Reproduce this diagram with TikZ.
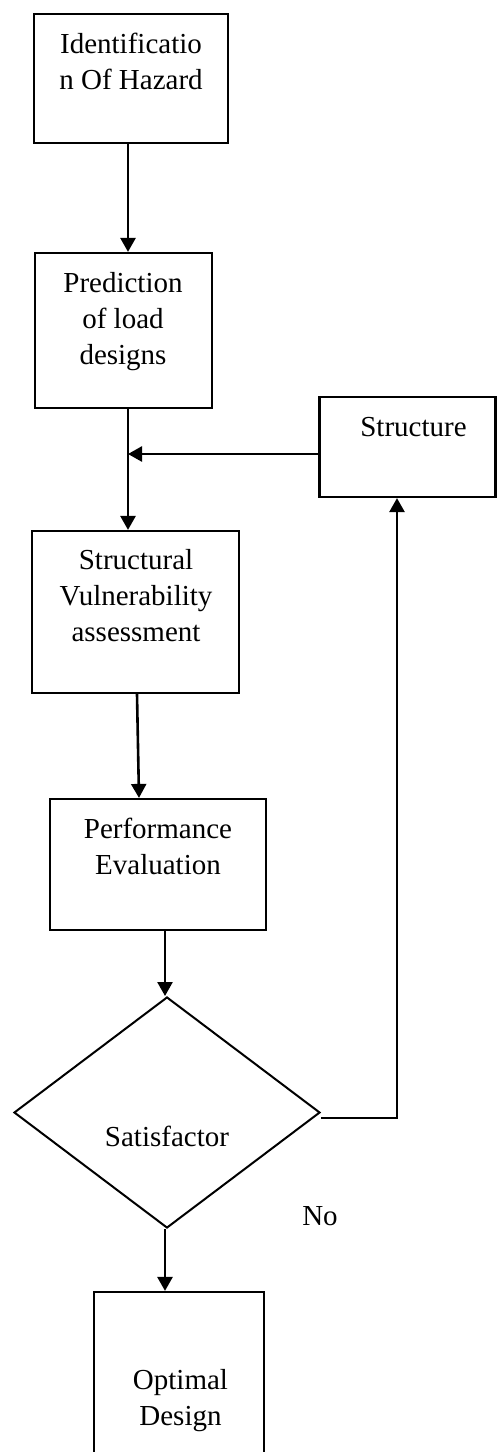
\documentclass[tikz,border=0pt]{standalone}
\usepackage{fontspec}
\setmainfont{Liberation Serif}
\usetikzlibrary{shapes.geometric,arrows.meta}

\begin{document}
\begin{tikzpicture}
					[x=1pt, y=-1pt, >={Triangle[width=15pt,length=14pt]},
					box/.style={draw, rectangle, line width=2.2pt, inner sep=0pt},
					txt/.style={align=center, inner sep=0pt, font=\fontsize{29}{36}\selectfont},
					flow/.style={->, line width=2.6pt}]
					\useasboundingbox (0,0) rectangle (497,1452);
					\clip (0,0) rectangle (497,1452);
					\node[box, minimum width=194pt, minimum height=129pt] (hazard) at (131,78.5) {};
					\node[box, minimum width=177pt, minimum height=155pt] (load) at (123.5,330.5) {};
					\node[box, minimum width=176pt, minimum height=100pt] (struct) at (407.5,447) {};
					\node[box, minimum width=207pt, minimum height=162pt] (vuln) at (135.5,612) {};
					\node[box, minimum width=216pt, minimum height=131pt] (perf) at (158,864.5) {};
					\node[diamond, draw, line width=2pt, inner sep=0pt, minimum width=306pt, minimum height=231pt] (sat) at (167,1112.5) {};
					\node[box, minimum width=170pt, minimum height=190pt] (opt) at (179,1387) {};
					\node[txt] (hazardtxt) at (131,61) {Identificatio\\n Of Hazard};
					\node[txt] (loadtxt) at (123,322) {Prediction\\of load\\designs};
					\node[txt] (structtxt) at (413.5,427) {Structure};
					\node[txt] (vulntxt) at (136,596) {Structural\\Vulnerability\\assessment};
					\node[txt] (perftxt) at (158,846) {Performance\\Evaluation};
					\node[txt] (sattxt) at (167,1136) {Satisfactor};
					\node[txt] (no) at (320,1216) {No};
					\node[txt] (opttxt) at (180.5,1401) {Optimal\\Design};
					\coordinate (x1) at (128,0);
					\coordinate (join) at (128,454);
					\coordinate (x3a) at (137,0);
					\coordinate (x3b) at (139,0);
					\coordinate (x4) at (165,0);
					\coordinate (back) at (397,1118);
					\draw[flow] (hazard.south -| x1) -- (load.north -| x1);
					\draw[flow] (load.south -| x1) -- (vuln.north -| x1);
					\draw[flow] (struct.west |- join) -- (join);
					\draw[flow] (vuln.south -| x3a) -- (perf.north -| x3b);
					\draw[flow] (perf.south -| x4) -- (sat.north -| x4);
					\draw[flow] (sat.south -| x4) -- (opt.north -| x4);
					\draw[flow] (sat.east |- back) -- (back) -- (struct.south -| back);
				\end{tikzpicture}
\end{document}
